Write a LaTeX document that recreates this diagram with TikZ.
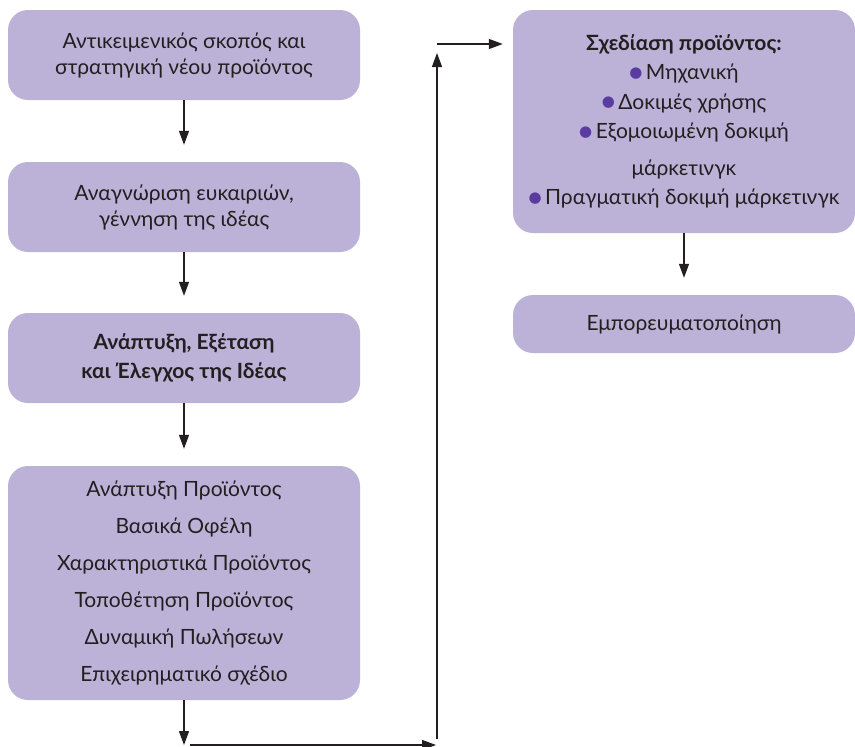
\documentclass[tikz,border=0pt]{standalone}
\usepackage{fontspec}
\setmainfont{Lato}
\newfontfamily\symfont{DejaVu Sans}
\usetikzlibrary{arrows.meta}

\definecolor{boxlilac}{RGB}{188,178,215}
\definecolor{dotpurple}{RGB}{90,60,160}
\definecolor{textgray}{RGB}{35,31,32}
\newcommand\purpledot{\textcolor{dotpurple}{\raisebox{2.5pt}{\symfont\fontsize{15}{15}\selectfont●}}}

\tikzset{
  stagebox/.style={fill=boxlilac,rounded corners=20pt,align=center,text=textgray,
    font=\fontsize{21}{26}\selectfont,inner sep=0pt},
  flowarrow/.style={line width=1.3pt,draw=textgray,-{Triangle[length=14pt,width=10pt]}}
}

\begin{document}
\begin{tikzpicture}[x=1pt,y=-1pt]
\useasboundingbox (0,0) rectangle (855,747);
\node[stagebox,minimum width=352pt,minimum height=90pt] (objective) at (184,55)
  {Αντικειμενικός σκοπός και\\στρατηγική νέου προϊόντος};
\node[stagebox,minimum width=352pt,minimum height=90pt] (ideas) at (184,207)
  {Αναγνώριση ευκαιριών,\\γέννηση της ιδέας};
\node[stagebox,minimum width=352pt,minimum height=90pt,font=\fontsize{21}{29}\selectfont\bfseries] (screening) at (184,358)
  {Ανάπτυξη, Εξέταση\\και Έλεγχος της Ιδέας};
\node[stagebox,minimum width=352pt,minimum height=234pt,font=\fontsize{21}{37}\selectfont] (development) at (184,583)
  {Ανάπτυξη Προϊόντος\\Βασικά Οφέλη\\Χαρακτηριστικά Προϊόντος\\Τοποθέτηση Προϊόντος\\Δυναμική Πωλήσεων\\Επιχειρηματικό σχέδιο};
\node[stagebox,minimum width=342pt,minimum height=223pt,font=\fontsize{21}{29.5}\selectfont] (design) at (684,121.5)
  {\textbf{Σχεδίαση προϊόντος:}\\\purpledot\,Μηχανική\\\purpledot\,Δοκιμές χρήσης\\\purpledot\,Εξομοιωμένη δοκιμή\\[7pt]μάρκετινγκ\\\purpledot\,Πραγματική δοκιμή μάρκετινγκ};
\node[stagebox,minimum width=342pt,minimum height=58pt] (launch) at (684,324)
  {Εμπορευματοποίηση};

\coordinate (bottomleft) at (184,745);
\coordinate (bottomright) at (437,745);
\coordinate (topright) at (437,44);

\draw[flowarrow,shorten >=17pt] (objective) -- (ideas);
\draw[flowarrow,shorten >=17pt] (ideas) -- (screening);
\draw[flowarrow,shorten >=17pt] (screening) -- (development);
\draw[flowarrow] (development) -- (bottomleft);
\draw[flowarrow,shorten <=6pt,shorten >=1pt] (bottomleft) -- (bottomright);
\draw[flowarrow,shorten <=6pt,shorten >=9pt] (bottomright) -- (topright);
\draw[flowarrow,shorten >=10pt] (topright) -- (design.west |- topright);
\draw[flowarrow,shorten >=17pt] (design) -- (launch);
\end{tikzpicture}
\end{document}
